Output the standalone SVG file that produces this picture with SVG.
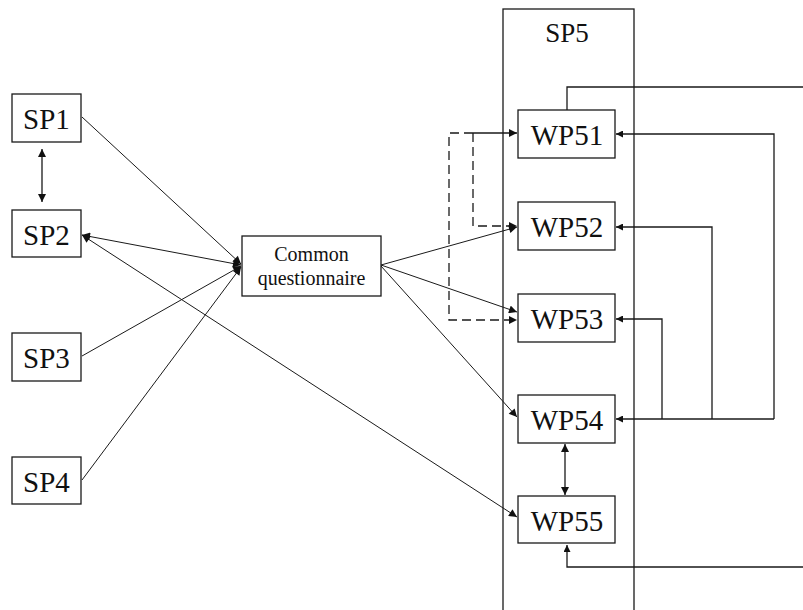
<svg xmlns="http://www.w3.org/2000/svg" width="803" height="610" viewBox="0 0 803 610">
  <style>
    .box { fill: #fff; stroke: #1a1a1a; stroke-width: 1.3; }
    .frame { fill: none; stroke: #1a1a1a; stroke-width: 1.3; }
    .lbl { font-family: "Liberation Serif", "Times New Roman", serif; font-size: 29px; fill: #111; text-anchor: middle; }
    .small { font-size: 20px; }
    .title { font-size: 27px; }
    .edge { fill: none; stroke: #1a1a1a; stroke-width: 1; }
    .ortho { fill: none; stroke: #1a1a1a; stroke-width: 1.3; }
    .dash { fill: none; stroke: #1a1a1a; stroke-width: 1.3; stroke-dasharray: 9 5; }
  </style>
  <defs>
    <marker id="ah" viewBox="0 0 10 10" refX="10" refY="5" markerUnits="userSpaceOnUse" markerWidth="10" markerHeight="8" orient="auto-start-reverse">
      <path d="M0,0 L10,5 L0,10 Z" fill="#111"/>
    </marker>
    <marker id="ahs" viewBox="0 0 10 10" refX="10" refY="5" markerUnits="userSpaceOnUse" markerWidth="8" markerHeight="7" orient="auto-start-reverse">
      <path d="M0,0 L10,5 L0,10 Z" fill="#111"/>
    </marker>
  </defs>

  <rect width="803" height="610" fill="#fff"/>

  <!-- SP5 container -->
  <g id="sp5">
    <rect class="frame" x="503" y="9" width="131" height="610"/>
    <text class="lbl title" x="567" y="42">SP5</text>
  </g>

  <!-- connectors -->
  <g id="connectors">
    <!-- SP1 <-> SP2 -->
    <path class="ortho" d="M42,149 V202" marker-start="url(#ah)" marker-end="url(#ah)"/>
    <!-- sub-projects into the common questionnaire -->
    <path class="edge" d="M82,117 L241,264" marker-end="url(#ah)"/>
    <path class="edge" d="M82,235 L241,265" marker-start="url(#ah)" marker-end="url(#ah)"/>
    <path class="edge" d="M82,356 L241,266" marker-end="url(#ah)"/>
    <path class="edge" d="M82,480 L241,267" marker-end="url(#ah)"/>
    <!-- SP2 <-> WP55 -->
    <path class="edge" d="M82,235 L517,517" marker-start="url(#ah)" marker-end="url(#ah)"/>
    <!-- common questionnaire out to work packages -->
    <path class="edge" d="M381,265 L517,227" marker-end="url(#ah)"/>
    <path class="edge" d="M381,265 L517,312" marker-end="url(#ah)"/>
    <path class="edge" d="M381,266 L517,417" marker-end="url(#ah)"/>
    <!-- dashed links on the left of SP5 -->
    <path class="dash" d="M473,133 H449 V320 H517" marker-end="url(#ah)"/>
    <path class="ortho" d="M473,133 H517" marker-end="url(#ah)"/>
    <path class="dash" d="M473,133 V226 H517" marker-end="url(#ah)"/>
    <!-- feedback from WP54 -->
    <path class="ortho" d="M774,419 H616" marker-end="url(#ahs)"/>
    <path class="ortho" d="M774,419 V134 H616" marker-end="url(#ahs)"/>
    <path class="ortho" d="M712,419 V227 H616" marker-end="url(#ahs)"/>
    <path class="ortho" d="M662,419 V319 H616" marker-end="url(#ahs)"/>
    <!-- WP54 <-> WP55 -->
    <path class="ortho" d="M565,444 V495" marker-start="url(#ah)" marker-end="url(#ah)"/>
    <!-- outgoing lines to the right edge -->
    <path class="ortho" d="M567,110 V87 H803"/>
    <path class="ortho" d="M803,567 H567 V545" marker-end="url(#ahs)"/>
  </g>

  <!-- nodes -->
  <g id="sp1"><rect class="box" x="12" y="94" width="69" height="48"/><text class="lbl" x="46.5" y="129">SP1</text></g>
  <g id="sp2"><rect class="box" x="12" y="210" width="69" height="47"/><text class="lbl" x="46.5" y="245">SP2</text></g>
  <g id="sp3"><rect class="box" x="12" y="333" width="69" height="48"/><text class="lbl" x="46.5" y="368">SP3</text></g>
  <g id="sp4"><rect class="box" x="12" y="457" width="69" height="47"/><text class="lbl" x="46.5" y="492">SP4</text></g>

  <g id="questionnaire">
    <rect class="box" x="242" y="236" width="139" height="60"/>
    <text class="lbl small" x="311.5" y="261">Common</text>
    <text class="lbl small" x="311.5" y="285">questionnaire</text>
  </g>

  <g id="wp51"><rect class="box" x="518" y="110" width="97" height="48"/><text class="lbl" x="567" y="145">WP51</text></g>
  <g id="wp52"><rect class="box" x="518" y="202" width="97" height="48"/><text class="lbl" x="567" y="237">WP52</text></g>
  <g id="wp53"><rect class="box" x="518" y="294" width="97" height="48"/><text class="lbl" x="567" y="329">WP53</text></g>
  <g id="wp54"><rect class="box" x="518" y="395" width="97" height="48"/><text class="lbl" x="567" y="430">WP54</text></g>
  <g id="wp55"><rect class="box" x="518" y="496" width="97" height="47"/><text class="lbl" x="567" y="531">WP55</text></g>
</svg>
